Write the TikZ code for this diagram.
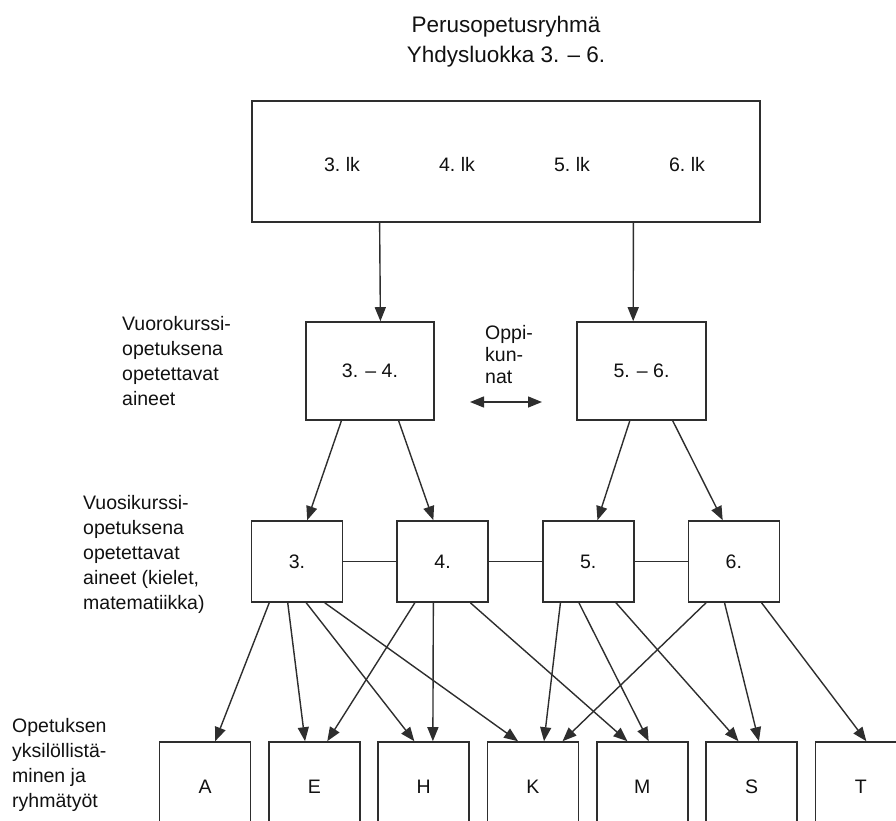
\documentclass[tikz,border=0pt]{standalone}
\usepackage{fontspec}
\setmainfont{Liberation Sans}
\usetikzlibrary{
  arrows.meta,
  positioning,
  calc
}
\definecolor{inkgray}{HTML}{2E2E2E}
\definecolor{textgray}{HTML}{111111}

\begin{document}
\begin{tikzpicture}[
    x=1pt, y=-1pt,
    every node/.style={font=\fontsize{19.5}{25}\selectfont, text=textgray, inner sep=0pt},
    box/.style={rectangle, draw=inkgray, line width=1.6pt, fill=white},
    pari/.style={box, minimum width=128.5pt, minimum height=98pt},
    klass/.style={box, minimum width=91pt, minimum height=81pt},
    aine/.style={box, minimum width=91pt, minimum height=90pt},
    side/.style={align=left, anchor=north west},
    myarrow/.style={-{Triangle[length=14pt, width=11pt]}, line width=1.4pt, inkgray},
    link/.style={line width=1.4pt, inkgray},
]
\useasboundingbox (0,0) rectangle (896,820);
\clip (0,0) rectangle (896,820);

% Title
\node[font=\fontsize{22.5}{30}\selectfont, align=center] (otsikko) at (506,42)
  {Perusopetusryhmä\\Yhdysluokka 3. – 6.};

% Whole group
\node[box, minimum width=508pt, minimum height=121pt] (ryhma) at (506,161.5) {};
\foreach \lk [count=\i from 0] in {3,...,6}
  \node[anchor=base] (lk\lk) at (342+115*\i,171) {\lk.~lk};

% Alternating courses
\node[pari] (v34) at (370,371) {3. – 4.};
\node[pari] (v56) at (641.5,371) {5. – 6.};
\node[side] (vuoro) at (122,316) {Vuorokurssi-\\opetuksena\\opetettavat\\aineet};
\node[side, font=\fontsize{19.5}{22}\selectfont] (oppi) at (485,325) {Oppi-\\kun-\\nat};
\coordinate (ok1) at (470,402);
\coordinate (ok2) at (542,402);

% Year courses
\node[klass] (v3) at (297,561.5) {3.};
\node[klass, right=53pt of v3] (v4) {4.};
\node[klass, right=53pt of v4] (v5) {5.};
\node[klass, right=53pt of v5] (v6) {6.};
\node[side] (vuosi) at (83,495) {Vuosikurssi-\\opetuksena\\opetettavat\\aineet (kielet,\\matematiikka)};

% Subjects
\node[aine] (aA) at (205,787) {A};
\node[aine, right=16.7pt of aA] (aE) {E};
\node[aine, right=16.7pt of aE] (aH) {H};
\node[aine, right=16.7pt of aH] (aK) {K};
\node[aine, right=16.7pt of aK] (aM) {M};
\node[aine, right=16.7pt of aM] (aS) {S};
\node[aine, right=16.7pt of aS] (aT) {T};
\node[side] (yksil) at (12,718) {Opetuksen\\yksilöllistä-\\minen ja\\ryhmätyöt};

% Arrows
\draw[myarrow] ($(ryhma.south west)!0.252!(ryhma.south east)$) -- ($(v34.north west)!0.58!(v34.north east)$);
\draw[myarrow] ($(ryhma.south west)!0.75!(ryhma.south east)$) -- ($(v56.north west)!0.436!(v56.north east)$);
\draw[myarrow, {Triangle[length=14pt, width=11pt]}-{Triangle[length=14pt, width=11pt]}] (ok1) -- (ok2);

\draw[myarrow] ($(v34.south west)!0.28!(v34.south east)$) -- ($(v3.north west)!0.61!(v3.north east)$);
\draw[myarrow] ($(v34.south west)!0.72!(v34.south east)$) -- ($(v4.north west)!0.40!(v4.north east)$);
\draw[myarrow] ($(v56.south west)!0.41!(v56.south east)$) -- ($(v5.north west)!0.60!(v5.north east)$);
\draw[myarrow] ($(v56.south west)!0.74!(v56.south east)$) -- ($(v6.north west)!0.38!(v6.north east)$);

\draw[link] (v3) -- (v4);
\draw[link] (v4) -- (v5);
\draw[link] (v5) -- (v6);

\foreach \a/\fa/\b/\fb in {v3/0.2/aA/0.61, v3/0.4/aE/0.40, v3/0.6/aH/0.40, v3/0.8/aK/0.34,
                           v4/0.2/aE/0.64, v4/0.4/aH/0.60, v4/0.8/aM/0.34,
                           v5/0.2/aK/0.62, v5/0.4/aM/0.57, v5/0.8/aS/0.36,
                           v6/0.2/aK/0.82, v6/0.4/aS/0.58, v6/0.8/aT/0.56}
  \draw[myarrow] ($(\a.south west)!\fa!(\a.south east)$) -- ($(\b.north west)!\fb!(\b.north east)$);

\end{tikzpicture}
\end{document}
